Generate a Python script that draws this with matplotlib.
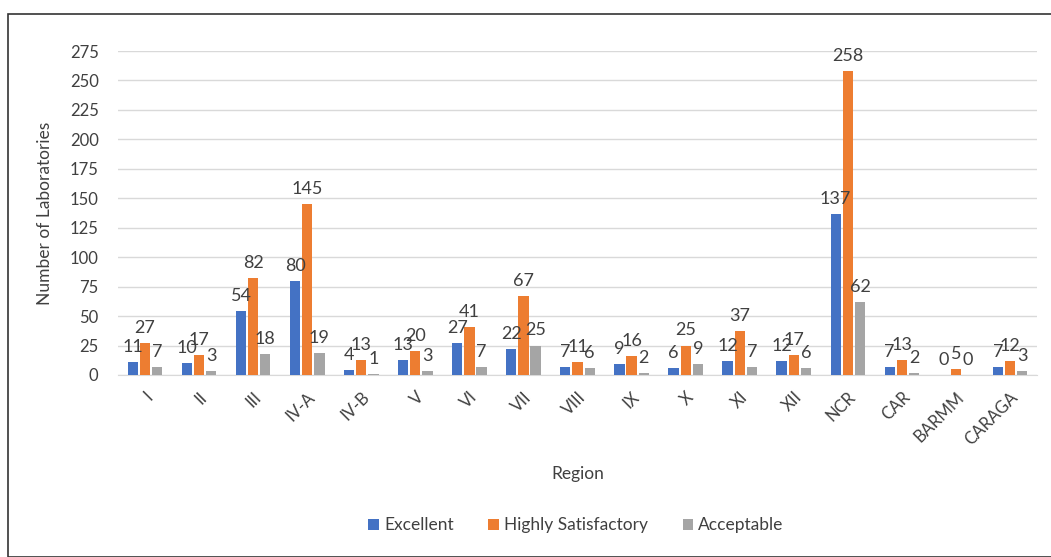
import matplotlib
matplotlib.use("Agg")
import matplotlib.pyplot as plt
import numpy as np
from matplotlib.patches import Rectangle

regions = ["I", "II", "III", "IV-A", "IV-B", "V", "VI", "VII", "VIII", "IX", "X", "XI", "XII", "NCR", "CAR", "BARMM", "CARAGA"]
excellent = [11, 10, 54, 80, 4, 13, 27, 22, 7, 9, 6, 12, 12, 137, 7, 0, 7]
highly_satisfactory = [27, 17, 82, 145, 13, 20, 41, 67, 11, 16, 25, 37, 17, 258, 13, 5, 12]
acceptable = [7, 3, 18, 19, 1, 3, 7, 25, 6, 2, 9, 7, 6, 62, 2, 0, 3]
series_names = ["Excellent", "Highly Satisfactory", "Acceptable"]
yticks = [0, 25, 50, 75, 100, 125, 150, 175, 200, 225, 250, 275]

colors = ["#4472C4", "#ED7D31", "#A5A5A5"]
txt = "#404040"
plt.rcParams['font.family'] = ['Lato', 'DejaVu Sans']

fig = plt.figure(figsize=(10.51, 5.57), dpi=100)
ax = fig.add_axes([0.1123, 0.3268, 0.8744, 0.5816])

x = np.arange(len(regions))
w = 0.19
off = 0.225
for i, (vals, name) in enumerate(zip([excellent, highly_satisfactory, acceptable], series_names)):
    pos = x + (i - 1) * off
    ax.bar(pos, vals, width=w, color=colors[i], label=name, zorder=3)
    for p, v in zip(pos, vals):
        ax.text(p, v + 6, str(v), ha='center', va='bottom', fontsize=13, color=txt, zorder=4)

ax.set_xlim(-0.5, len(regions) - 0.5)
ax.set_ylim(0, 275)
ax.set_yticks(yticks)
ax.yaxis.grid(True, color="#D9D9D9", linewidth=1, zorder=0)
ax.set_axisbelow(True)
for s in ["top", "right", "left"]:
    ax.spines[s].set_visible(False)
ax.spines["bottom"].set_color("#D9D9D9")
ax.tick_params(axis='both', length=0, colors=txt, labelsize=12)
ax.tick_params(axis='y', pad=14)
ax.set_xticks(x)
ax.set_xticklabels(regions, rotation=45, ha='right', va='top', rotation_mode='anchor')
ax.tick_params(axis='x', pad=10)
ax.set_ylabel("Number of Laboratories", fontsize=12.5, color=txt, labelpad=12)
ax.set_xlabel("Region", fontsize=12.5, color=txt)
ax.xaxis.set_label_coords(0.5, -0.28, transform=ax.transAxes)

leg = fig.legend(loc='center', bbox_to_anchor=(0.548, 0.057), ncol=3, frameon=False,
                 fontsize=12.5, handlelength=0.6, handleheight=0.6, handletextpad=0.3, columnspacing=2.0)
for t in leg.get_texts():
    t.set_color(txt)

fig.patches.append(Rectangle((8 / 1051, 0.0), 1.2, 1 - 14 / 557, transform=fig.transFigure,
                             fill=False, edgecolor="#333333", linewidth=1.2))

fig.savefig("out.png", dpi=100)
